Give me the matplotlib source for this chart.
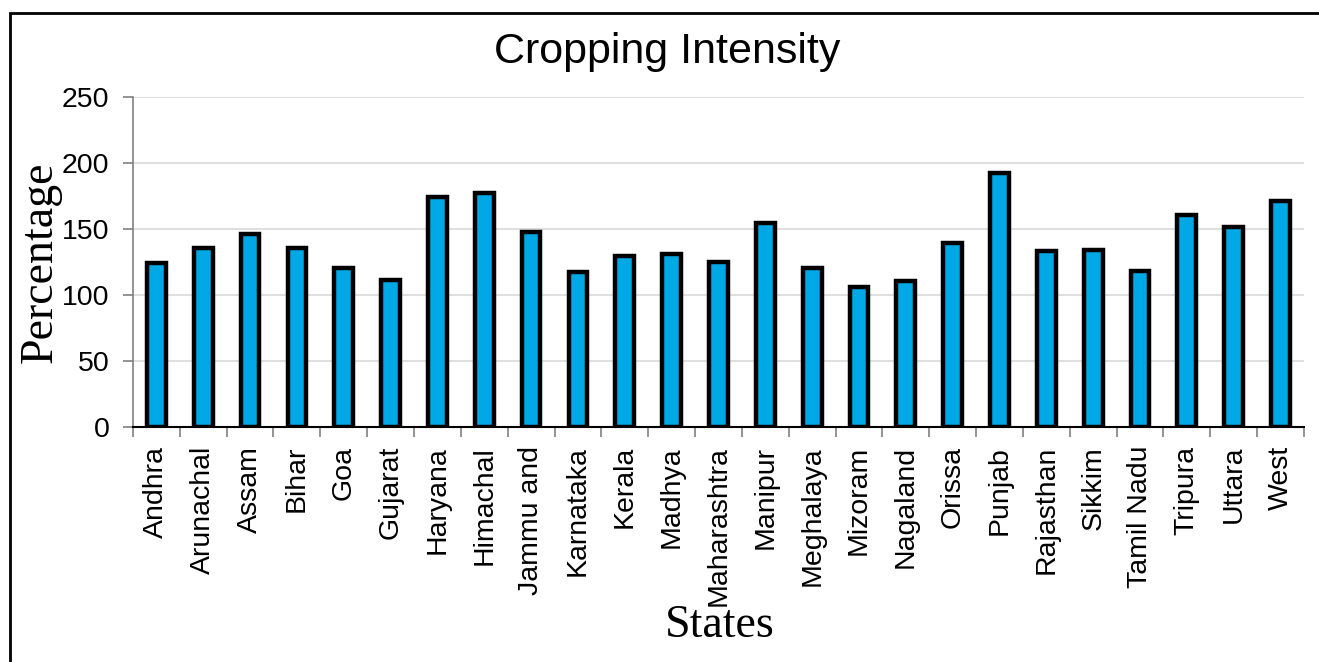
import matplotlib
matplotlib.use("Agg")
import matplotlib.pyplot as plt
from matplotlib.patches import Rectangle
import numpy as np

states = ["Andhra", "Arunachal", "Assam", "Bihar", "Goa", "Gujarat", "Haryana",
          "Himachal", "Jammu and", "Karnataka", "Kerala", "Madhya", "Maharashtra",
          "Manipur", "Meghalaya", "Mizoram", "Nagaland", "Orissa", "Punjab",
          "Rajasthan", "Sikkim", "Tamil Nadu", "Tripura", "Uttara", "West"]
intensity = [124, 135, 146, 135, 120, 111, 174, 177, 147, 117, 129,
             131, 125, 154, 120, 106, 110, 139, 192, 133, 134, 118, 160, 151, 171]
y_ticks = [0, 50, 100, 150, 200, 250]

sans = ["Liberation Sans", "DejaVu Sans"]
serif = ["Liberation Serif", "DejaVu Serif"]

fig = plt.figure(figsize=(13.19, 6.62), dpi=100)
ax = fig.add_axes([0.1008, 0.3557, 0.8878, 0.4985])

x = np.arange(len(states))
ax.bar(x, intensity, width=0.40, color="#00A8E6", edgecolor="black",
       linewidth=3.2, zorder=3)

ax.set_xlim(-0.5, len(states) - 0.5)
ax.set_ylim(0, 250)
ax.set_yticks(y_ticks)
ax.set_yticklabels([str(v) for v in y_ticks], fontsize=20.5, family=sans)
ax.yaxis.grid(True, color="#d9d9d9", linewidth=1.2, zorder=0)

ax.set_xticks(x)
ax.set_xticklabels(states, rotation=90, fontsize=20.5, family=sans)
ax.set_xticks(np.arange(-0.5, len(states), 1.0), minor=True)
ax.tick_params(axis="x", which="major", length=0, pad=14)
ax.tick_params(axis="x", which="minor", length=7, width=1.2, color="#808080")
ax.tick_params(axis="y", length=7, width=1.2, color="#808080", pad=10)

for side in ("top", "right"):
    ax.spines[side].set_visible(False)
ax.spines["left"].set_color("#808080")
ax.spines["left"].set_linewidth(1.2)
ax.spines["bottom"].set_color("black")
ax.spines["bottom"].set_linewidth(1.5)

fig.text(0.506, 0.922, "Cropping Intensity", ha="center", va="center",
         fontsize=31, family=sans)
fig.text(0.031, 0.604, "Percentage", rotation=90, ha="center", va="center",
         fontsize=33, family=serif)
fig.text(0.546, 0.055, "States", ha="center", va="center",
         fontsize=33, family=serif)

# outer chart frame, running off the right and bottom edges
fig.patches.append(Rectangle((0.0076, -0.1), 1.2, 1.081, transform=fig.transFigure,
                             fill=False, edgecolor="black", linewidth=2.0))

fig.savefig("out.png", dpi=100)
